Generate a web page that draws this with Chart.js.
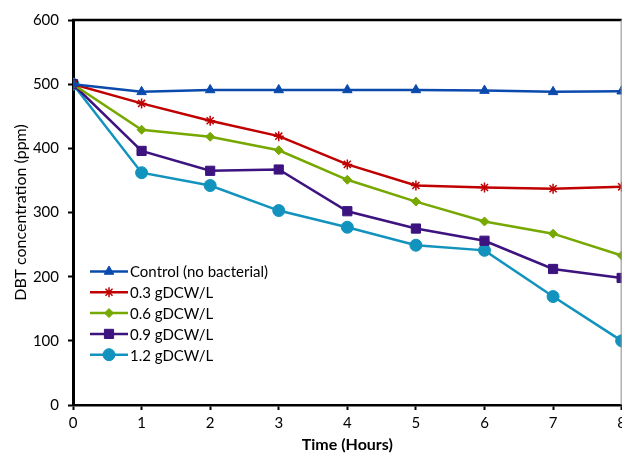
<!DOCTYPE html>
<html>
<head>
<meta charset="utf-8">
<script src="https://cdn.jsdelivr.net/npm/chart.js@4.4.1/dist/chart.umd.min.js"></script>
<style>
  html, body { margin: 0; padding: 0; background: #fff; overflow: hidden; }
  #wrap { width: 630px; height: 458px; position: relative; }
</style>
</head>
<body>
<div id="wrap"><canvas id="chart"></canvas></div>
<script>
const hours = [0, 1, 2, 3, 4, 5, 6, 7, 8]
const seriesNames = ['Control (no bacterial)', '0.3 gDCW/L', '0.6 gDCW/L', '0.9 gDCW/L', '1.2 gDCW/L']
const control = [500, 488, 491, 491, 491, 491, 490, 488, 489]
const dose03 = [500, 470, 443, 419, 375, 342, 339, 337, 340]
const dose06 = [500, 429, 418, 397, 351, 317, 286, 267, 233]
const dose09 = [500, 396, 365, 367, 302, 275, 256, 212, 198]
const dose12 = [500, 362, 342, 303, 277, 249, 241, 169, 100]

const FONT = 'Lato, "Open Sans", sans-serif'
const INK = '#000'

const makeSet = (label, values, color, pointStyle, radius) => ({
  label,
  data: hours.map((h, i) => ({ x: h, y: values[i] })),
  borderColor: color,
  backgroundColor: color,
  borderWidth: 2.5,
  pointStyle,
  pointRadius: radius,
  pointBorderWidth: pointStyle === 'star' ? 1.5 : 1,
  tension: 0
})

// legend drawn inside the plot: short line with the marker in the middle
const innerLegend = {
  id: 'innerLegend',
  afterDatasetsDraw(chart) {
    const ctx = chart.ctx
    const x0 = 90, x1 = 128, top = 271.5, step = 20.8
    ctx.save()
    chart.data.datasets.forEach((ds, i) => {
      const y = top + i * step
      ctx.strokeStyle = ds.borderColor
      ctx.lineWidth = 2.5
      ctx.beginPath()
      ctx.moveTo(x0, y)
      ctx.lineTo(x1, y)
      ctx.stroke()
      ctx.fillStyle = ds.backgroundColor
      ctx.lineWidth = ds.pointBorderWidth
      Chart.helpers.drawPoint(ctx, { pointStyle: ds.pointStyle, radius: ds.pointRadius, rotation: 0, borderWidth: ds.pointBorderWidth }, (x0 + x1) / 2, y)
      ctx.fillStyle = INK
      ctx.font = '15px ' + FONT
      ctx.textBaseline = 'middle'
      ctx.fillText(ds.label, x1 + 2, y + 1)
    })
    ctx.restore()
  }
}

// top edge in black, right edge in thin grey
const frame = {
  id: 'frame',
  afterDraw(chart) {
    const { left, right, top, bottom } = chart.chartArea
    const ctx = chart.ctx
    ctx.save()
    ctx.strokeStyle = '#000'
    ctx.lineWidth = 2.5
    ctx.beginPath()
    ctx.moveTo(left - 1, top)
    ctx.lineTo(right, top)
    ctx.stroke()
    ctx.strokeStyle = '#8a8a8a'
    ctx.lineWidth = 1
    ctx.beginPath()
    ctx.moveTo(right - 0.5, top)
    ctx.lineTo(right - 0.5, bottom)
    ctx.stroke()
    ctx.restore()
  }
}

new Chart(document.getElementById('chart'), {
  type: 'line',
  data: {
    datasets: [
      makeSet(seriesNames[0], control, '#0a4aad', 'triangle', 5.5),
      makeSet(seriesNames[1], dose03, '#c00000', 'star', 5),
      makeSet(seriesNames[2], dose06, '#76a800', 'rectRot', 4.5),
      makeSet(seriesNames[3], dose09, '#3d1380', 'rect', 6.5),
      makeSet(seriesNames[4], dose12, '#1193bd', 'circle', 6)
    ]
  },
  options: {
    responsive: true,
    maintainAspectRatio: false,
    animation: false,
    layout: { padding: { top: 20, left: 0, right: 0, bottom: 0 } },
    plugins: {
      legend: { display: false },
      title: { display: false },
      tooltip: { enabled: false }
    },
    scales: {
      x: {
        type: 'linear',
        min: 0,
        max: 8,
        afterFit: scale => { scale.height = 53 },
        ticks: { stepSize: 1, color: INK, font: { family: FONT, size: 15 }, padding: 4 },
        grid: { drawOnChartArea: false, tickLength: 5, color: '#000', tickWidth: 2 },
        border: { color: '#000', width: 2.5 },
        title: { display: true, text: 'Time (Hours)', color: INK, font: { family: FONT, size: 16, weight: 'bold' }, padding: { top: 1 } }
      },
      y: {
        min: 0,
        max: 600,
        afterFit: scale => { scale.width = 73 },
        ticks: { stepSize: 100, color: INK, font: { family: FONT, size: 15 }, padding: 9 },
        grid: { drawOnChartArea: false, tickLength: 5, color: '#000', tickWidth: 2 },
        border: { color: '#000', width: 3 },
        title: { display: true, text: 'DBT concentration (ppm)', color: INK, font: { family: FONT, size: 16 }, padding: { top: 11, bottom: 4 } }
      }
    }
  },
  plugins: [innerLegend, frame]
})
</script>
</body>
</html>
